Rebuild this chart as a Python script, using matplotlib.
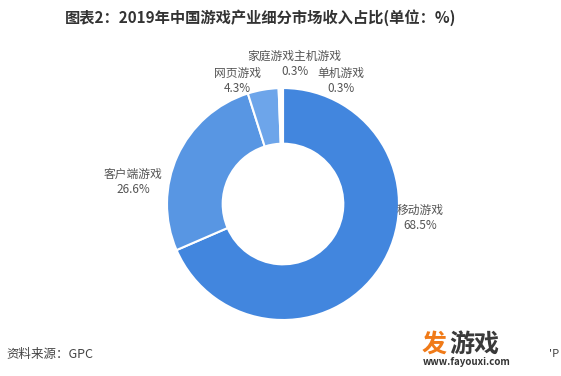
import matplotlib.pyplot as plt

plt.rcParams['font.family'] = ['Noto Sans CJK SC', 'DejaVu Sans']

segments = ["移动游戏", "客户端游戏", "网页游戏", "家庭游戏主机游戏", "单机游戏"]
shares = [68.5, 26.6, 4.3, 0.3, 0.3]
colors = ["#4286DE", "#5896E3", "#6DA5EA", "#E3EEFB", "#EEF4FC"]
# where each label sits (axes data units, ring radius = 1)
label_pos = [(1.18, -0.12), (-1.29, 0.19), (-0.39, 1.06), (0.10, 1.21), (0.50, 1.06)]

fig = plt.figure(figsize=(5.61, 3.76), dpi=100)
fig.patch.set_facecolor("white")

ax = fig.add_axes([0.2977, 0.1489, 0.4135, 0.617])
ax.pie(shares, colors=colors, startangle=90, counterclock=False, radius=1,
       wedgeprops=dict(width=0.48, edgecolor="white", linewidth=1.5))
ax.set_xlim(-1, 1)
ax.set_ylim(-1, 1)
ax.set_aspect("equal")
ax.axis("off")

for name, val, (x, y) in zip(segments, shares, label_pos):
    ax.text(x, y + 0.065, name, ha="center", va="center", fontsize=8.5,
            color="#555555", clip_on=False)
    ax.text(x, y - 0.065, f"{val}%", ha="center", va="center", fontsize=8.5,
            color="#555555", clip_on=False)

fig.text(0.465, 0.952, "图表2：2019年中国游戏产业细分市场收入占比(单位：%)",
         ha="center", va="center", fontsize=11, fontweight="bold", color="#333333")
fig.text(0.012, 0.058, "资料来源：GPC", ha="left", va="center", fontsize=9, color="#444444")

# site logo at the bottom
fig.text(0.752, 0.083, "发", ha="left", va="center", fontsize=18, fontweight="bold", color="#F07A18")
fig.text(0.800, 0.083, "游戏", ha="left", va="center", fontsize=18, fontweight="bold", color="#3A3A3A")
fig.text(0.754, 0.037, "www.fayouxi.com", ha="left", va="center", fontsize=7, fontweight="bold", color="#333333")
fig.text(0.978, 0.058, "'P", ha="left", va="center", fontsize=8, color="#444444")

fig.savefig("out.png", dpi=100)
